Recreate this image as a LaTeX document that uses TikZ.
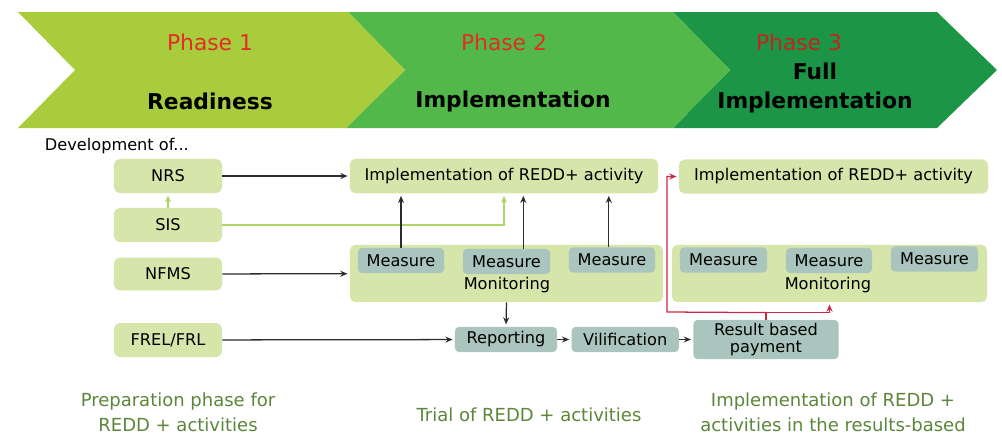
\documentclass[tikz,border=0pt]{standalone}
\usepackage{fontspec}
\setmainfont{DejaVu Sans}
\usetikzlibrary{arrows.meta,positioning,calc}
\definecolor{phaseA}{RGB}{168,204,60}
\definecolor{phaseB}{RGB}{82,184,74}
\definecolor{phaseC}{RGB}{28,150,70}
\definecolor{phred}{RGB}{228,44,38}
\definecolor{boxg}{RGB}{214,229,170}
\definecolor{boxm}{RGB}{170,196,190}
\definecolor{link}{RGB}{200,40,70}
\definecolor{sisg}{RGB}{176,212,104}
\definecolor{note}{RGB}{92,134,58}
\definecolor{ink}{RGB}{45,45,45}

\begin{document}
\begin{tikzpicture}[x=0.025cm,y=-0.025cm,font=\fontsize{11.5}{13.5}\selectfont,
  gb/.style={fill=boxg,rounded corners=4pt,align=center,inner sep=1pt},
  mb/.style={fill=boxm,rounded corners=3pt,align=center,inner sep=1pt,minimum height=0.63cm},
  ttl/.style={font=\fontsize{15.5}{20}\selectfont},
  arr/.style={-{Stealth[length=1.8mm,width=1.5mm]},line width=0.9pt,draw=ink,shorten >=1.5pt},
  garr/.style={arr,draw=sisg},
  rarr/.style={arr,draw=link},
  nt/.style={text=note,align=center,font=\fontsize{12.8}{17.8}\selectfont}]
\useasboundingbox (0,0) rectangle (1002,435);
% phase band
\fill[phaseC] (673,12) -- (937,12) -- (997,70) -- (937,128) -- (673,128) -- (730,70) -- cycle;
\fill[phaseB] (348,12) -- (673,12) -- (730,70) -- (673,128) -- (346,128) -- (405,70) -- cycle;
\fill[phaseA] (18,12) -- (348,12) -- (405,70) -- (346,128) -- (18,128) -- (75,70) -- cycle;
\node[ttl,text=phred] (t1) at (210,42) {Phase 1};
\node[ttl,font=\fontsize{15.5}{20}\selectfont\bfseries] (h1) at (210,101) {Readiness};
\node[ttl,text=phred] (t2) at (504,42) {Phase 2};
\node[ttl,font=\fontsize{15.5}{20}\selectfont\bfseries] (h2) at (513,101) {Implementation};
\node[ttl,text=phred!85!black] (t3) at (799,42) {Phase 3};
\node[ttl,font=\fontsize{15.5}{20}\selectfont\bfseries,align=center] (h3) at (815,88) {Full\\Implementation};

\node[anchor=west] (dev) at (40,146) {Development of...};
% left column
\node[gb,minimum width=2.7cm,minimum height=0.85cm] (nrs) at (168,176) {NRS};
\node[gb,minimum width=2.7cm,minimum height=0.85cm] (sis) at (168,225) {SIS};
\node[gb,minimum width=2.7cm,minimum height=0.82cm] (nfms) at (168,274) {NFMS};
\node[gb,minimum width=2.7cm,minimum height=0.85cm] (frel) at (168,340) {FREL/FRL};
% phase 2
\node[gb,minimum width=7.7cm,minimum height=0.87cm] (impl1) at (504,176) {Implementation of REDD+ activity};
\node[gb,minimum width=7.83cm,minimum height=1.43cm] (mon1) at (506.5,273.5) {};
\node[mb,minimum width=2.15cm] (m1) at (401,260.5) {Measure};
\node[mb,minimum width=2.18cm] (m2) at (506.5,261.5) {Measure};
\node[mb,minimum width=2.15cm] (m3) at (612,260) {Measure};
\node (lab1) at (507,285) {Monitoring};
\node[mb,minimum width=2.55cm] (rep) at (506,339.5) {Reporting};
\node[mb,minimum width=2.68cm,right=0.35cm of rep] (vil) {Vilification};
\node[mb,minimum width=3.63cm,minimum height=0.98cm,right=0.35cm of vil] (res) {Result based\\[-1pt]payment};
% phase 3
\node[gb,minimum width=7.73cm,minimum height=0.85cm] (impl2) at (833.5,176.5) {Implementation of REDD+ activity};
\node[gb,minimum width=7.88cm,minimum height=1.43cm] (mon2) at (829.5,273.5) {};
\node[mb,minimum width=2.18cm] (m4) at (723.5,260) {Measure};
\node[mb,minimum width=2.15cm] (m5) at (829,260.5) {Measure};
\node[mb,minimum width=2.18cm] (m6) at (934.5,259) {Measure};
\node (lab2) at (828,285) {Monitoring};
% notes
\node[nt] (n1) at (178,412) {Preparation phase for\\REDD + activities};
\node[nt] (n2) at (529,415) {Trial of REDD + activities};
\node[nt] (n3) at (833,412) {Implementation of REDD +\\activities in the results-based};

\draw[arr] (nrs) -- (impl1); \draw[arr] (nfms) -- (mon1); \draw[arr] (frel) -- (rep);
\draw[garr] (sis) -- (nrs); \draw[garr] (sis.east) -| (impl1.south);
\draw[arr] (m1.north) -- (m1.north |- impl1.south);
\draw[arr] ([xshift=0.42cm]m2.north) -- ([xshift=0.42cm]m2.north |- impl1.south);
\draw[arr] ([xshift=-0.08cm]m3.north) -- ([xshift=-0.08cm]m3.north |- impl1.south);
\draw[arr] (mon1.south) -- (rep.north); \draw[arr] (rep) -- (vil); \draw[arr] (vil) -- (res);
\coordinate (rj) at ($(res.north)+(0,-7)$);
\coordinate (rc) at (667,312);
\draw[line width=0.9pt,draw=link] (res.north) -- (rj);
\draw[rarr] (rj) -- (rc) |- (impl2.west);
\draw[rarr] (rj) -| (mon2.south);
\end{tikzpicture}
\end{document}
